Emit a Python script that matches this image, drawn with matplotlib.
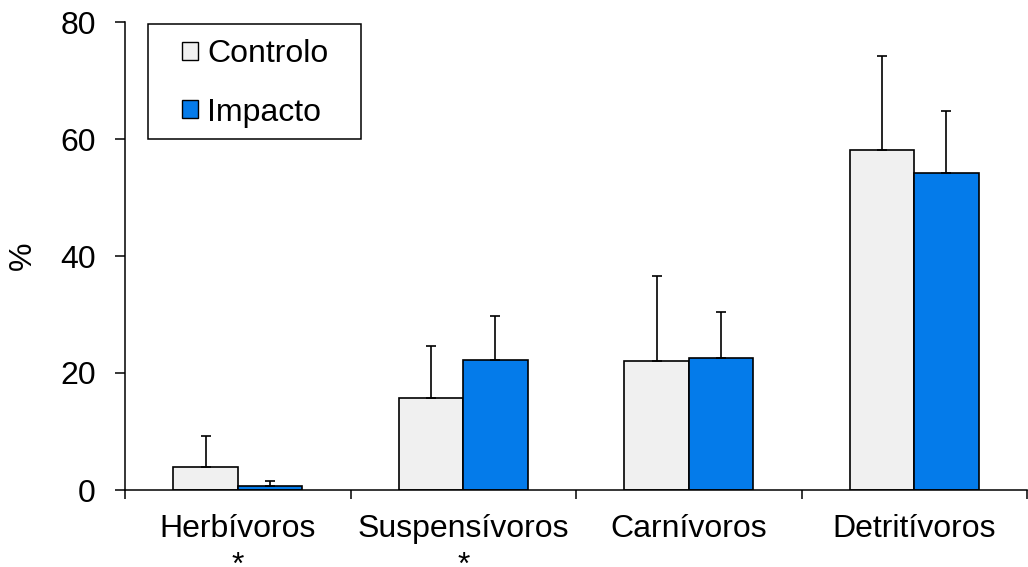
import matplotlib
matplotlib.use("Agg")
import matplotlib.pyplot as plt
import matplotlib.transforms as mtransforms
import numpy as np
from matplotlib.patches import Patch, Rectangle

plt.rcParams["font.family"] = ["Liberation Sans", "DejaVu Sans"]

# Trophic groups, mean percentage and upper standard deviation per treatment
categories = ["Herbívoros", "Suspensívoros", "Carnívoros", "Detritívoros"]
significant = [True, True, False, False]
controlo_mean = [4.0, 15.7, 22.0, 58.2]
controlo_sd = [5.3, 9.0, 14.6, 16.0]
impacto_mean = [0.7, 22.3, 22.6, 54.2]
impacto_sd = [0.9, 7.4, 7.9, 10.6]
series_names = ["Controlo", "Impacto"]
y_ticks = [0, 20, 40, 60, 80]

col_controlo = "#F0F0F0"
col_impacto = "#047BEA"

W, H, DPI = 1028, 567, 100
fig = plt.figure(figsize=(W / DPI, H / DPI), dpi=DPI)
ax = fig.add_axes([125 / W, (H - 490) / H, (1027 - 125) / W, (490 - 22) / H])

x = np.arange(len(categories))
bw = 0.286
err_kw = dict(ecolor="black", elinewidth=1.2, capsize=3.3, capthick=1.2)
ax.bar(x - bw / 2, controlo_mean, bw, color=col_controlo, edgecolor="black",
       linewidth=1.2, yerr=[np.zeros(len(x)), controlo_sd], error_kw=err_kw,
       label=series_names[0], zorder=2)
ax.bar(x + bw / 2, impacto_mean, bw, color=col_impacto, edgecolor="black",
       linewidth=1.2, yerr=[np.zeros(len(x)), impacto_sd], error_kw=err_kw,
       label=series_names[1], zorder=2)

ax.set_xlim(-0.5, -0.5 + 902 / 226.7)
ax.set_ylim(0, 80)
ax.set_yticks(y_ticks)
ax.tick_params(axis="y", labelsize=23, length=7, width=1.1, pad=14, direction="out")

# Group boundaries carry the tick marks; names sit at the group centres
ax.set_xticks(np.arange(len(categories) + 1) - 0.5)
ax.set_xticklabels([])
ax.tick_params(axis="x", which="major", length=6.5, width=1.1, direction="out")
ax.set_xticks(x, minor=True)
ax.set_xticklabels(categories, minor=True, fontsize=23)
ax.tick_params(axis="x", which="minor", length=0, pad=17)

# Significance marks below the group names
mark_tr = mtransforms.blended_transform_factory(ax.transData, fig.transFigure)
for xi, s in zip(x, significant):
    if s:
        ax.text(xi, (H - 551) / H, "*", transform=mark_tr, ha="center", va="top",
                fontsize=23, clip_on=False)

for side in ("top", "right"):
    ax.spines[side].set_visible(False)
for side in ("left", "bottom"):
    ax.spines[side].set_linewidth(1.1)

ax.set_ylabel("%", fontsize=23, labelpad=16)

handles = [Patch(facecolor=col_controlo, edgecolor="black", linewidth=1.0),
           Patch(facecolor=col_impacto, edgecolor="black", linewidth=1.0)]
leg = fig.legend(handles, series_names, loc="upper left",
                 bbox_to_anchor=(182 / W, (H - 39.5) / H), bbox_transform=fig.transFigure,
                 borderaxespad=0, borderpad=0, fontsize=23, frameon=False,
                 handlelength=0.5, handleheight=0.5, handletextpad=0.28,
                 labelspacing=0.88)
fig.add_artist(Rectangle((148 / W, (H - 139) / H), 213 / W, 115 / H,
                         transform=fig.transFigure, fill=False,
                         edgecolor="black", linewidth=1.1))

fig.savefig("out.png", dpi=DPI)
